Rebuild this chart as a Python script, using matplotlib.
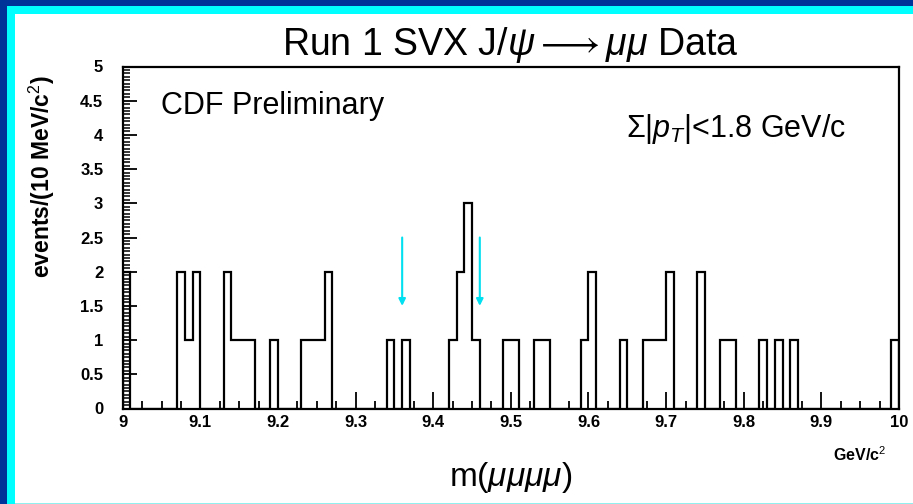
import numpy as np
import matplotlib
matplotlib.use('Agg')
import matplotlib.pyplot as plt
from matplotlib.patches import Rectangle
from matplotlib.ticker import MultipleLocator, FuncFormatter

plt.rcParams['font.family'] = ['Liberation Sans', 'DejaVu Sans']
plt.rcParams['mathtext.fontset'] = 'custom'
plt.rcParams['mathtext.rm'] = 'Liberation Sans'
plt.rcParams['mathtext.it'] = 'Liberation Sans:italic'
plt.rcParams['mathtext.bf'] = 'Liberation Sans:bold'

#   Non-empty 10 MeV bins: lower edge (GeV/c^2) and number of events
bin_lo = [9.00, 9.07, 9.08, 9.09, 9.13, 9.14, 9.15, 9.16, 9.19, 9.23, 9.24, 9.25,
          9.26, 9.34, 9.36, 9.42, 9.43, 9.44, 9.45, 9.49, 9.50, 9.53, 9.54, 9.59,
          9.60, 9.64, 9.67, 9.68, 9.69, 9.70, 9.74, 9.77, 9.78, 9.82, 9.84, 9.86, 9.99]
events = [2, 2, 1, 2, 2, 1, 1, 1, 1, 1, 1, 1,
          2, 1, 1, 1, 2, 3, 1, 1, 1, 1, 1, 1,
          2, 1, 1, 1, 1, 2, 2, 1, 1, 1, 1, 1, 1]

#   Mass window markers
arrow_x = [9.36, 9.46]
arrow_from = 2.5
arrow_to = 1.5

W, H = 913, 504
fig = plt.figure(figsize=(W / 100, H / 100), dpi=100, facecolor='white')
ax = fig.add_axes([122.7 / W, 1 - 408.5 / H, (899.0 - 122.7) / W, (408.5 - 66.5) / H])

#   Fill 100 bins from 9 to 10 GeV
edges = np.linspace(9.0, 10.0, 101)
counts = np.zeros(100)
idx = np.rint((np.array(bin_lo) - 9.0) / 0.01).astype(int)
counts[idx] = events

ax.stairs(counts, edges, color='black', lw=1.6, baseline=0)

for x in arrow_x:
    ax.annotate('', xy=(x, arrow_to), xytext=(x, arrow_from),
                arrowprops=dict(arrowstyle='-|>', color='#00e0f0', lw=1.5,
                                mutation_scale=10, shrinkA=0, shrinkB=0))

ax.set_xlim(9.0, 10.0)
ax.set_ylim(0, 5)
for s in ax.spines.values():
    s.set_linewidth(1.6)

ax.xaxis.set_major_locator(MultipleLocator(0.1))
ax.xaxis.set_minor_locator(MultipleLocator(0.025))
ax.yaxis.set_major_locator(MultipleLocator(0.5))
ax.yaxis.set_minor_locator(MultipleLocator(0.05))
ax.xaxis.set_major_formatter(FuncFormatter(lambda v, p: '%g' % round(v, 2)))
ax.yaxis.set_major_formatter(FuncFormatter(lambda v, p: '%g' % round(v, 2)))

ax.tick_params(axis='x', which='major', direction='in', length=12, width=1.3, pad=5,
               labelsize=12)
ax.tick_params(axis='x', which='minor', direction='in', length=6, width=1.3)
ax.tick_params(axis='y', which='major', direction='in', length=10, width=1.3, pad=14,
               labelsize=12)
ax.tick_params(axis='y', which='minor', direction='in', length=5.3, width=1.1)
for lab in ax.get_xticklabels() + ax.get_yticklabels():
    lab.set_fontweight('bold')

ax.text(0.049, 0.862, 'CDF Preliminary', transform=ax.transAxes, fontsize=22)
ax.text(0.648, 0.795, r'$\Sigma|p_T|$<1.8 GeV/c', transform=ax.transAxes, fontsize=22)

fig.text(0.559, 0.911, r'Run 1 SVX J/$\psi\longrightarrow\mu\mu$ Data',
         ha='center', va='center', fontsize=27)
fig.text(0.559, 0.052, r'm($\mu\mu\mu\mu$)', ha='center', va='center', fontsize=24)
fig.text(0.942, 0.098, r'GeV/c$^2$', ha='center', va='center', fontsize=11.5,
         fontweight='bold')
fig.text(42 / W, 1 - 177 / H, r'events/(10 MeV/c$^2$)', rotation=90, ha='center',
         va='center', fontsize=16.5, fontweight='bold')

#   Slide border strips
dark = '#003399'
cyan = '#00ffff'
fig.add_artist(Rectangle((0, 0), 7 / W, 1, transform=fig.transFigure, color=dark, lw=0))
fig.add_artist(Rectangle((0, 1 - 6 / H), 1, 6 / H, transform=fig.transFigure,
                         color=dark, lw=0))
fig.add_artist(Rectangle((7 / W, 0), 8 / W, 1 - 6 / H, transform=fig.transFigure,
                         color=cyan, lw=0))
fig.add_artist(Rectangle((7 / W, 1 - 14 / H), 1, 8 / H, transform=fig.transFigure,
                         color=cyan, lw=0))
fig.add_artist(Rectangle((15 / W, 0), 1, 1.5 / H, transform=fig.transFigure,
                         color='#90f0f0', lw=0))

fig.savefig('out.png', dpi=100, facecolor='white')
